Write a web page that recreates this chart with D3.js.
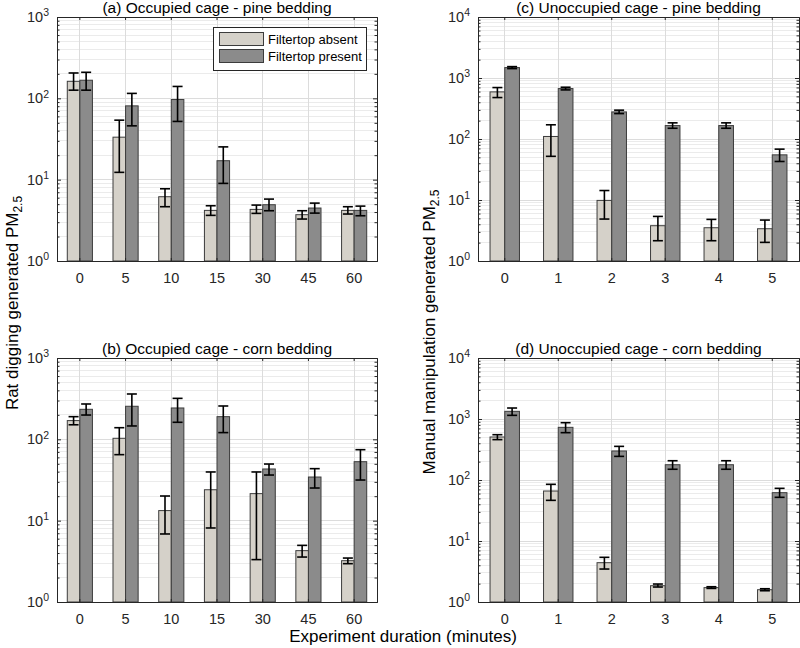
<!DOCTYPE html>
<html>
<head>
<meta charset="utf-8">
<script src="https://cdn.jsdelivr.net/npm/d3@7"></script>
<style>
  html, body { margin: 0; padding: 0; background: #fff; }
  svg { display: block; font-family: "Liberation Sans", Arial, Helvetica, sans-serif; }
</style>
</head>
<body>
<svg id="chart" width="800" height="648"></svg>
<script>
// ---------- DATA ----------
const occCategories = ["0", "5", "10", "15", "30", "45", "60"];
const unoccCategories = ["0", "1", "2", "3", "4", "5"];
const seriesNames = ["Filtertop absent", "Filtertop present"];

// (a) Occupied cage - pine bedding
const aAbsent     = [162, 33.3, 6.17, 4.19, 4.31, 3.71, 4.19];
const aAbsentLo   = [126, 12.3, 4.65, 3.64, 3.85, 3.28, 3.78];
const aAbsentHi   = [205, 53.9, 7.73, 4.78, 4.87, 4.15, 4.65];
const aPresent    = [167, 80.8, 96.7, 17.1, 4.92, 4.48, 4.19];
const aPresentLo  = [126, 45.9, 52, 9.0, 4.15, 3.88, 3.6];
const aPresentHi  = [209, 115, 140, 25.3, 5.77, 5.15, 4.73];

// (b) Occupied cage - corn bedding
const bAbsent     = [170, 103, 13.3, 24.0, 21.5, 4.28, 3.22];
const bAbsentLo   = [151, 64.8, 6.86, 8.13, 3.32, 3.57, 2.96];
const bAbsentHi   = [190, 139, 20.1, 39.7, 39.7, 4.97, 3.47];
const bPresent    = [234, 255, 243, 190, 43.2, 34.4, 53.1];
const bPresentLo  = [199, 146, 162, 121, 36.4, 25.2, 31.6];
const bPresentHi  = [272, 361, 319, 257, 49.7, 43.6, 74.6];

// (c) Unoccupied cage - pine bedding
const cAbsent     = [592, 110, 9.85, 3.79, 3.51, 3.38];
const cAbsentLo   = [478, 52, 4.87, 2.15, 2.15, 2.02];
const cAbsentHi   = [697, 171, 14.3, 5.38, 4.81, 4.69];
const cPresent    = [1482, 671, 278, 166, 166, 55];
const cPresentLo  = [1426, 638, 261, 150, 150, 42.8];
const cPresentHi  = [1537, 706, 297, 184, 184, 68.2];

// (d) Unoccupied cage - corn bedding
const dAbsent     = [507, 66, 4.41, 1.85, 1.72, 1.59];
const dAbsentLo   = [459, 46.4, 3.47, 1.76, 1.67, 1.53];
const dAbsentHi   = [553, 85, 5.4, 1.97, 1.78, 1.65];
const dPresent    = [1336, 730, 299, 178, 178, 62];
const dPresentLo  = [1148, 597, 244, 150, 150, 52];
const dPresentHi  = [1514, 870, 356, 207, 207, 73];

const occTicks = [1, 10, 100, 1000];
const unoccTicks = [1, 10, 100, 1000, 10000];

// ---------- LAYOUT / STYLE ----------
const colAbsent = "#d5d1c9";
const colPresent = "#8b8b8b";
const colEdge = "#3c3c3c";
const svg = d3.select("#chart");

const panels = [
  { title: "(a) Occupied cage - pine bedding", cats: occCategories, ymax: 1000, ticks: occTicks,
    abs: aAbsent, absLo: aAbsentLo, absHi: aAbsentHi, pre: aPresent, preLo: aPresentLo, preHi: aPresentHi,
    x0: 57, x1: 377, y0: 17, y1: 261, legend: true },
  { title: "(b) Occupied cage - corn bedding", cats: occCategories, ymax: 1000, ticks: occTicks,
    abs: bAbsent, absLo: bAbsentLo, absHi: bAbsentHi, pre: bPresent, preLo: bPresentLo, preHi: bPresentHi,
    x0: 57, x1: 377, y0: 358, y1: 602 },
  { title: "(c) Unoccupied cage - pine bedding", cats: unoccCategories, ymax: 10000, ticks: unoccTicks,
    abs: cAbsent, absLo: cAbsentLo, absHi: cAbsentHi, pre: cPresent, preLo: cPresentLo, preHi: cPresentHi,
    x0: 478, x1: 799, y0: 17, y1: 261 },
  { title: "(d) Unoccupied cage - corn bedding", cats: unoccCategories, ymax: 10000, ticks: unoccTicks,
    abs: dAbsent, absLo: dAbsentLo, absHi: dAbsentHi, pre: dPresent, preLo: dPresentLo, preHi: dPresentHi,
    x0: 478, x1: 799, y0: 358, y1: 602 }
];

function supLabel(sel, v) {
  const e = Math.round(Math.log10(v));
  sel.text(null);
  sel.append("tspan").text("10");
  sel.append("tspan").attr("dy", "-0.55em").attr("font-size", "10.5px").text(e);
}

panels.forEach(p => {
  const g = svg.append("g");
  const x = d3.scaleBand().domain(p.cats).range([p.x0, p.x1]).paddingInner(0).paddingOuter(0);
  const y = d3.scaleLog().domain([1, p.ymax]).range([p.y1, p.y0]);
  const bw = x.bandwidth();
  const barW = bw * 0.275;

  const minors = [];
  const majors = p.ticks;
  for (let d = 1; d < p.ymax; d *= 10) for (let k = 2; k <= 9; k++) minors.push(d * k);

  // grid
  g.append("g").selectAll("line.minor").data(minors).join("line")
    .attr("x1", p.x0).attr("x2", p.x1).attr("y1", d => y(d)).attr("y2", d => y(d))
    .attr("stroke", "#ebebeb").attr("stroke-width", 1).attr("shape-rendering", "crispEdges");
  g.append("g").selectAll("line.major").data(majors).join("line")
    .attr("x1", p.x0).attr("x2", p.x1).attr("y1", d => y(d)).attr("y2", d => y(d))
    .attr("stroke", "#dcdcdc").attr("stroke-width", 1).attr("shape-rendering", "crispEdges");
  g.append("g").selectAll("line.vgrid").data(p.cats).join("line")
    .attr("x1", d => x(d) + bw / 2).attr("x2", d => x(d) + bw / 2).attr("y1", p.y0).attr("y2", p.y1)
    .attr("stroke", "#dcdcdc").attr("stroke-width", 1).attr("shape-rendering", "crispEdges");

  // bars
  const idx = d3.range(p.cats.length);
  g.append("g").selectAll("rect.abs").data(idx).join("rect")
    .attr("x", i => x(p.cats[i]) + bw / 2 - barW).attr("width", barW)
    .attr("y", i => y(p.abs[i])).attr("height", i => y(1) - y(p.abs[i]))
    .attr("fill", colAbsent).attr("stroke", colEdge).attr("stroke-width", 1);
  g.append("g").selectAll("rect.pre").data(idx).join("rect")
    .attr("x", i => x(p.cats[i]) + bw / 2).attr("width", barW)
    .attr("y", i => y(p.pre[i])).attr("height", i => y(1) - y(p.pre[i]))
    .attr("fill", colPresent).attr("stroke", colEdge).attr("stroke-width", 1);

  // error bars
  const errs = [];
  idx.forEach(i => {
    errs.push({ cx: x(p.cats[i]) + bw / 2 - barW / 2, lo: p.absLo[i], hi: p.absHi[i] });
    errs.push({ cx: x(p.cats[i]) + bw / 2 + barW / 2, lo: p.preLo[i], hi: p.preHi[i] });
  });
  const cap = 5;
  const eg = g.append("g").attr("stroke", "#000").attr("stroke-width", 1.6).attr("fill", "none");
  eg.selectAll("line.v").data(errs).join("line")
    .attr("x1", d => d.cx).attr("x2", d => d.cx).attr("y1", d => y(d.lo)).attr("y2", d => y(d.hi));
  eg.selectAll("line.t").data(errs).join("line")
    .attr("x1", d => d.cx - cap).attr("x2", d => d.cx + cap).attr("y1", d => y(d.hi)).attr("y2", d => y(d.hi));
  eg.selectAll("line.b").data(errs).join("line")
    .attr("x1", d => d.cx - cap).attr("x2", d => d.cx + cap).attr("y1", d => y(d.lo)).attr("y2", d => y(d.lo));

  // axes
  const yAxis = d3.axisLeft(y).tickValues(majors).tickSize(-4).tickPadding(8);
  const ya = g.append("g").attr("transform", `translate(${p.x0},0)`).call(yAxis);
  ya.selectAll("text").each(function (d) { supLabel(d3.select(this), d); });
  const yMinor = d3.axisLeft(y).tickValues(minors).tickSize(-2.5).tickFormat("");
  g.append("g").attr("transform", `translate(${p.x0},0)`).call(yMinor).select(".domain").remove();
  const yR = d3.axisRight(y).tickValues(majors).tickSize(-4).tickFormat("");
  g.append("g").attr("transform", `translate(${p.x1},0)`).call(yR);
  const yRm = d3.axisRight(y).tickValues(minors).tickSize(-2.5).tickFormat("");
  g.append("g").attr("transform", `translate(${p.x1},0)`).call(yRm).select(".domain").remove();

  const xAxis = d3.axisBottom(x).tickSize(-3).tickPadding(12);
  g.append("g").attr("transform", `translate(0,${p.y1})`).call(xAxis);
  const xTop = d3.axisTop(x).tickSize(-3).tickFormat("");
  g.append("g").attr("transform", `translate(0,${p.y0})`).call(xTop);

  g.selectAll(".domain").attr("stroke", "#262626").attr("stroke-width", 1);
  g.selectAll(".tick line").attr("stroke", "#262626");
  g.selectAll(".tick text").attr("fill", "#262626").attr("font-size", "14.5px")
    .attr("font-family", "'Liberation Sans', Arial, sans-serif");

  // title
  g.append("text").attr("x", (p.x0 + p.x1) / 2).attr("y", p.y0 - 4)
    .attr("text-anchor", "middle").attr("font-size", "15.5px").attr("fill", "#000").text(p.title);

  // legend
  if (p.legend) {
    const lg = g.append("g");
    lg.append("rect").attr("x", 213.5).attr("y", 27.5).attr("width", 153).attr("height", 43)
      .attr("fill", "#fff").attr("stroke", "#262626").attr("stroke-width", 1);
    const cols = [colAbsent, colPresent];
    seriesNames.forEach((s, i) => {
      lg.append("rect").attr("x", 219.5).attr("y", 32.5 + i * 17).attr("width", 44).attr("height", 13)
        .attr("fill", cols[i]).attr("stroke", colEdge).attr("stroke-width", 1);
      lg.append("text").attr("x", 268).attr("y", 43.5 + i * 17).attr("font-size", "13px")
        .attr("fill", "#000").text(s);
    });
  }
});

// axis labels
const yl1 = svg.append("text").attr("transform", "translate(18,303) rotate(-90)")
  .attr("text-anchor", "middle").attr("font-size", "17px").attr("fill", "#000");
yl1.append("tspan").text("Rat digging generated PM");
yl1.append("tspan").attr("dy", "0.3em").attr("font-size", "12px").text("2.5");

const yl2 = svg.append("text").attr("transform", "translate(435,332) rotate(-90)")
  .attr("text-anchor", "middle").attr("font-size", "17px").attr("fill", "#000");
yl2.append("tspan").text("Manual manipulation generated PM");
yl2.append("tspan").attr("dy", "0.3em").attr("font-size", "12px").text("2.5");

svg.append("text").attr("x", 403).attr("y", 642).attr("text-anchor", "middle")
  .attr("font-size", "17px").attr("fill", "#000").text("Experiment duration (minutes)");
</script>
</body>
</html>
